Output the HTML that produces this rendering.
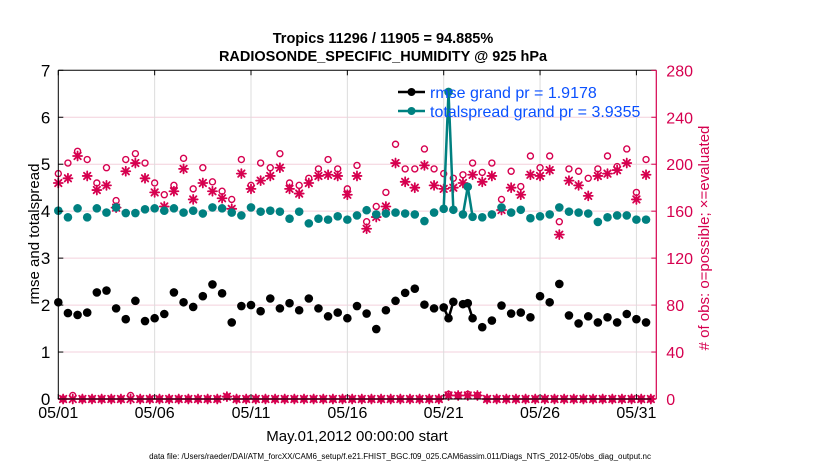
<!DOCTYPE html>
<html><head><meta charset="utf-8"><style>
html,body{margin:0;padding:0;background:#fff;}
svg{display:block;font-family:"Liberation Sans",Arial,sans-serif;}
</style></head><body>
<svg id="chart" width="830" height="470" viewBox="0 0 830 470" xmlns="http://www.w3.org/2000/svg">
<rect width="830" height="470" fill="#fff"/>
<g id="grid"></g>
<g id="marks"></g>
<g id="axes"></g>
<text x="383" y="43" text-anchor="middle" font-size="14.5" font-weight="bold">Tropics 11296 / 11905 = 94.885%</text>
<text x="383" y="61" text-anchor="middle" font-size="14.5" font-weight="bold">RADIOSONDE_SPECIFIC_HUMIDITY @ 925 hPa</text>
<text x="357" y="441" text-anchor="middle" font-size="15">May.01,2012 00:00:00 start</text>
<text transform="translate(39,234) rotate(-90)" text-anchor="middle" font-size="15">rmse and totalspread</text>
<text transform="translate(709,238) rotate(-90)" text-anchor="middle" font-size="15" fill="#d6004f"># of obs: o=possible; ×=evaluated</text>
<text x="400" y="459" text-anchor="middle" font-size="8">data file: /Users/raeder/DAI/ATM_forcXX/CAM6_setup/f.e21.FHIST_BGC.f09_025.CAM6assim.011/Diags_NTrS_2012-05/obs_diag_output.nc</text>
<g id="legend"></g>
</svg>
<script>
const times = [0,0.5,1,1.5,2,2.5,3,3.5,4,4.5,5,5.5,6,6.5,7,7.5,8,8.5,9,9.5,10,10.5,11,11.5,12,12.5,13,13.5,14,14.5,15,15.5,16,16.5,17,17.5,18,18.5,19,19.5,20,20.25,20.5,21,21.25,21.5,22,22.5,23,23.5,24,24.5,25,25.5,26,26.5,27,27.5,28,28.5,29,29.5,30,30.5];
const rmse = [2.06,1.83,1.79,1.84,2.27,2.31,1.93,1.70,2.09,1.66,1.72,1.81,2.27,2.06,1.96,2.19,2.44,2.25,1.63,1.98,2.00,1.87,2.14,1.93,2.04,1.89,2.14,1.93,1.76,1.84,1.72,1.98,1.82,1.49,1.89,2.09,2.26,2.35,2.01,1.93,1.95,1.72,2.07,2.02,2.04,1.72,1.53,1.67,1.99,1.82,1.84,1.74,2.19,2.06,2.45,1.78,1.61,1.76,1.63,1.74,1.63,1.81,1.70,1.63];
const spread = [4.01,3.87,4.06,3.87,4.06,3.97,4.08,3.96,3.96,4.04,4.06,4.01,4.06,3.97,4.01,3.95,4.08,4.06,3.97,3.91,4.08,3.99,4.01,3.99,3.84,3.99,3.74,3.84,3.82,3.89,3.82,3.91,4.02,3.93,3.95,3.97,3.95,3.93,3.79,3.97,4.05,6.54,4.03,3.93,4.52,3.88,3.87,3.93,4.08,3.97,4.03,3.85,3.89,3.93,4.08,3.99,3.97,3.95,3.77,3.87,3.91,3.91,3.82,3.82];
const possible = [192,201,211,204,184,197,169,204,209,201,184,174,182,205,179,197,185,177,170,204,182,201,197,209,184,182,188,196,204,196,179,199,151,164,176,217,196,196,213,196,192,4,188,191,4,201,193,201,170,194,181,207,197,207,151,196,194,188,196,207,198,213,176,204];
const evaluated = [184,188,207,190,178,182,163,194,201,188,176,164,177,196,170,184,177,171,162,192,179,186,190,197,179,175,184,190,191,190,174,190,145,155,164,201,185,180,199,182,179,3,180,184,3,191,185,190,161,180,174,191,190,195,140,186,182,173,190,192,195,201,170,191];
const offTimes = [0.25,0.75,1.25,1.75,2.25,2.75,3.25,3.75,4.25,4.75,5.25,5.75,6.25,6.75,7.25,7.75,8.25,8.75,9.25,9.75,10.25,10.75,11.25,11.75,12.25,12.75,13.25,13.75,14.25,14.75,15.25,15.75,16.25,16.75,17.25,17.75,18.25,18.75,19.25,19.75,20.75,21.75,22.25,22.75,23.25,23.75,24.25,24.75,25.25,25.75,26.25,26.75,27.25,27.75,28.25,28.75,29.25,29.75,30.25,30.75];
const offPossible = [0,3,0,0,0,0,0,3,0,0,0,0,0,0,0,0,0,2,0,0,0,0,0,0,0,0,0,0,0,0,0,0,0,0,0,0,0,0,0,0,3,3,0,0,0,0,0,0,0,0,0,0,0,0,0,0,0,0,0,0];
const offEvaluated = [0,0,0,0,0,0,0,0,0,0,0,0,0,0,0,0,0,2,0,0,0,0,0,0,0,0,0,0,0,0,0,0,0,0,0,0,0,0,0,0,3,3,0,0,0,0,0,0,0,0,0,0,0,0,0,0,0,0,0,0];
const leftTicks = [0,1,2,3,4,5,6,7];
const rightTicks = [0,40,80,120,160,200,240,280];
const xTickDays = [0,5,10,15,20,25,30];
const xTickLabels = ["05/01","05/06","05/11","05/16","05/21","05/26","05/31"];

const NS="http://www.w3.org/2000/svg";
const X0=58.3, X1=656.3, Y0=399, Y1=70.3, DAYPX=19.27;
const MAG="#d6004f", TEAL="#008080";
const xs=t=>X0+t*DAYPX;
const yl=v=>Y0-(v/7)*(Y0-Y1);
const yr=v=>Y0-(v/280)*(Y0-Y1);
function mk(tag,attrs,parent){const e=document.createElementNS(NS,tag);for(const k in attrs)e.setAttribute(k,attrs[k]);parent.appendChild(e);return e;}
const grid=document.getElementById('grid'),marks=document.getElementById('marks'),axes=document.getElementById('axes'),legend=document.getElementById('legend');

leftTicks.forEach(v=>{ if(v>0&&v<7){const l=mk('line',{x1:X0,x2:X1,y1:yl(v),y2:yl(v),stroke:'#f3d0dc','stroke-width':1},grid);

}});
xTickDays.forEach(d=>{ if(d>0){const l=mk('line',{x1:xs(d),x2:xs(d),y1:Y0,y2:Y1,stroke:'#dcdcdc','stroke-width':1},grid);

}});

function star(cx,cy,parent){const g=mk('g',{stroke:MAG,'stroke-width':1.8,'stroke-linecap':'round'},parent);
const r=4.5;mk('line',{x1:cx-r,x2:cx+r,y1:cy,y2:cy},g);mk('line',{x1:cx,x2:cx,y1:cy-r,y2:cy+r},g);
const d=r*0.72;mk('line',{x1:cx-d,x2:cx+d,y1:cy-d,y2:cy+d},g);mk('line',{x1:cx-d,x2:cx+d,y1:cy+d,y2:cy-d},g);return g;}

offTimes.forEach((t,i)=>{
 const c=mk('circle',{cx:xs(t),cy:yr(offPossible[i]),r:3,fill:'none',stroke:MAG,'stroke-width':1.4},marks);
 
 
 const s=star(xs(t),yr(offEvaluated[i]),marks);
 
 
});
times.forEach((t,i)=>{
 const c=mk('circle',{cx:xs(t),cy:yr(possible[i]),r:3,fill:'none',stroke:MAG,'stroke-width':1.4},marks);
 
 
 const s=star(xs(t),yr(evaluated[i]),marks);
 
 
});

function series(vals,color,name){
 for(let i=1;i<times.length;i++){ if(times[i]-times[i-1]<0.3){
  const l=mk('line',{x1:xs(times[i-1]),y1:yl(vals[i-1]),x2:xs(times[i]),y2:yl(vals[i]),stroke:color,'stroke-width':2.5},marks);
  
  }}
 times.forEach((t,i)=>{const c=mk('circle',{cx:xs(t),cy:yl(vals[i]),r:4.3,fill:color},marks);
  
  });
}
series(spread,TEAL,'totalspread');
series(rmse,'#000','rmse');

const lA=mk('line',{x1:X0,x2:X0,y1:Y0,y2:Y1,stroke:'#000','stroke-width':1},axes);


const tA=mk('line',{x1:X0,x2:X1,y1:Y1,y2:Y1,stroke:'#000','stroke-width':1},axes);


const bA=mk('line',{x1:X0,x2:X1,y1:Y0,y2:Y0,stroke:'#000','stroke-width':1},axes);


const rA=mk('line',{x1:X1,x2:X1,y1:Y0,y2:Y1,stroke:MAG,'stroke-width':1.2},axes);



leftTicks.forEach(v=>{mk('line',{x1:X0,x2:X0+5,y1:yl(v),y2:yl(v),stroke:'#000'},axes);
 const t=mk('text',{x:X0-8,y:yl(v)+6,'text-anchor':'end','font-size':17},axes);t.textContent=v;
 
 });
rightTicks.forEach(v=>{mk('line',{x1:X1-5,x2:X1,y1:yr(v),y2:yr(v),stroke:MAG},axes);
 const t=mk('text',{x:X1+10,y:yr(v)+6,'font-size':16,fill:MAG},axes);t.textContent=v;
 
 });
xTickDays.forEach((d,i)=>{mk('line',{x1:xs(d),x2:xs(d),y1:Y0,y2:Y0-5,stroke:'#000'},axes);mk('line',{x1:xs(d),x2:xs(d),y1:Y1,y2:Y1+5,stroke:'#000'},axes);
 const t=mk('text',{x:xs(d),y:418,'text-anchor':'middle','font-size':16},axes);t.textContent=xTickLabels[i];
 
 });

[['#000','rmse grand pr = 1.9178',92,'legend-entry-rmse'],[TEAL,'totalspread grand pr = 3.9355',111,'legend-entry-totalspread']].forEach(e=>{
 const g=mk('g',{},legend);
 
 
 mk('line',{x1:398,x2:425,y1:e[2],y2:e[2],stroke:e[0],'stroke-width':2.5},g);
 mk('circle',{cx:411.5,cy:e[2],r:4,fill:e[0]},g);
 const t=mk('text',{x:430,y:e[2]+6,'font-size':16,fill:'#0a50ff'},g);t.textContent=e[1];
});
</script>
</body></html>
